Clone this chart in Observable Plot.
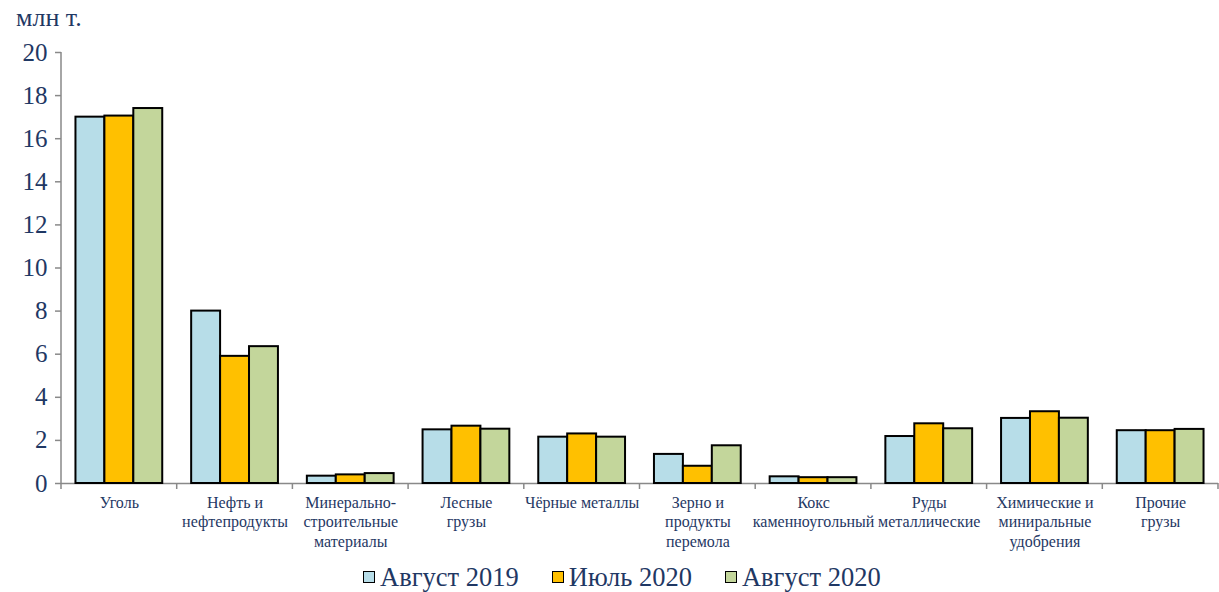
<!DOCTYPE html>
<html>
<head>
<meta charset="utf-8">
<script src="https://cdn.jsdelivr.net/npm/d3@7"></script>
<script src="https://cdn.jsdelivr.net/npm/@observablehq/plot@0.6"></script>
<style>
  body { margin: 0; background: #fff; }
  #wrap { position: relative; width: 1219px; height: 592px; font-family: "Liberation Serif", "Times New Roman", Tinos, "DejaVu Serif", serif; }
  #unit { position: absolute; left: 16px; top: 5px; font-size: 26px; color: #1f3864; line-height: 1; }
  #legend { position: absolute; left: 363px; top: 564px; display: flex; align-items: center; font-size: 26.5px; color: #1f3864; line-height: 1; }
  .item { display: flex; align-items: center; margin-right: 33px; }
  .sw { width: 10px; height: 10px; border: 1.5px solid #000; margin-right: 5px; }
</style>
</head>
<body>
<div id="wrap">
  <div id="chart"></div>
  <div id="unit">млн т.</div>
  <div id="legend"></div>
</div>
<script>
const categories = [
  "Уголь",
  "Нефть и\nнефтепродукты",
  "Минерально-\nстроительные\nматериалы",
  "Лесные\nгрузы",
  "Чёрные металлы",
  "Зерно и\nпродукты\nперемола",
  "Кокс\nкаменноугольный",
  "Руды\nметаллические",
  "Химические и\nминиральные\nудобрения",
  "Прочие\nгрузы"
];
const seriesNames = ["Август 2019", "Июль 2020", "Август 2020"];
const aug2019 = [17.0, 8.0, 0.34, 2.49, 2.15, 1.35, 0.31, 2.18, 3.02, 2.45];
const jul2020 = [17.05, 5.9, 0.40, 2.66, 2.30, 0.80, 0.27, 2.77, 3.33, 2.45];
const aug2020 = [17.4, 6.35, 0.46, 2.52, 2.15, 1.75, 0.27, 2.54, 3.03, 2.51];
const seriesColors = ["#b7dde8", "#ffc000", "#c3d69b"];
const yTicks = [0, 2, 4, 6, 8, 10, 12, 14, 16, 18, 20];

const valueLists = [aug2019, jul2020, aug2020];
const data = [];
categories.forEach((c, i) => {
  seriesNames.forEach((s, j) => data.push({cat: c, series: s, value: valueLists[j][i]}));
});

const navy = "#1f3864";
const gray = "#898989";
const serif = "'Liberation Serif', 'Times New Roman', Tinos, 'DejaVu Serif', serif";

const chart = Plot.plot({
  width: 1219,
  height: 556,
  marginLeft: 61,
  marginRight: 1,
  marginTop: 52,
  marginBottom: 73,
  style: {fontFamily: serif, background: "#fff"},
  fx: {domain: categories, padding: 0, label: null, round: false},
  x: {domain: seriesNames, paddingInner: 0, paddingOuter: 0.5, axis: null, round: false},
  y: {domain: [0, 20], axis: null},
  color: {domain: seriesNames, range: seriesColors},
  marks: [
    Plot.ruleY([0], {stroke: gray, strokeWidth: 1.5}),
    Plot.barY(data, {fx: "cat", x: "series", y: "value", fill: "series", stroke: "#000", strokeWidth: 2, inset: 0}),
    Plot.axisY({ticks: yTicks, tickSize: 6, tickPadding: 8, fontSize: 25, stroke: gray, fill: navy, label: null, strokeWidth: 1.5}),
    Plot.axisFx({anchor: "bottom", tickSize: 0, tickPadding: 11, fontSize: 16, lineHeight: 1.2, fill: navy, label: null})
  ]
});
chart.querySelectorAll("text").forEach(t => t.style.fontFamily = serif);
document.getElementById("chart").appendChild(chart);

// axis line and separator ticks between categories, positioned through the plot's own scales
const fxs = chart.scale("fx");
const ys = chart.scale("y");
const band = d3.scaleBand(fxs.domain, fxs.range).paddingInner(0).paddingOuter(0);
const y0 = ys.apply(0), yTop = ys.apply(20);
const svg = d3.select(chart);
const g = svg.append("g").attr("stroke", gray).attr("stroke-width", 1.5);
const xLeft = band(categories[0]);
g.append("line").attr("x1", xLeft).attr("x2", xLeft).attr("y1", yTop).attr("y2", y0 + 6);
categories.forEach(c => {
  const xr = band(c) + band.bandwidth();
  g.append("line").attr("x1", xr).attr("x2", xr).attr("y1", y0).attr("y2", y0 + 6);
});

// legend
const legend = document.getElementById("legend");
seriesNames.forEach((s, i) => {
  const it = document.createElement("div");
  it.className = "item";
  const sw = document.createElement("div");
  sw.className = "sw";
  sw.style.background = seriesColors[i];
  const t = document.createElement("span");
  t.textContent = s;
  it.appendChild(sw); it.appendChild(t);
  legend.appendChild(it);
});
</script>
</body>
</html>
